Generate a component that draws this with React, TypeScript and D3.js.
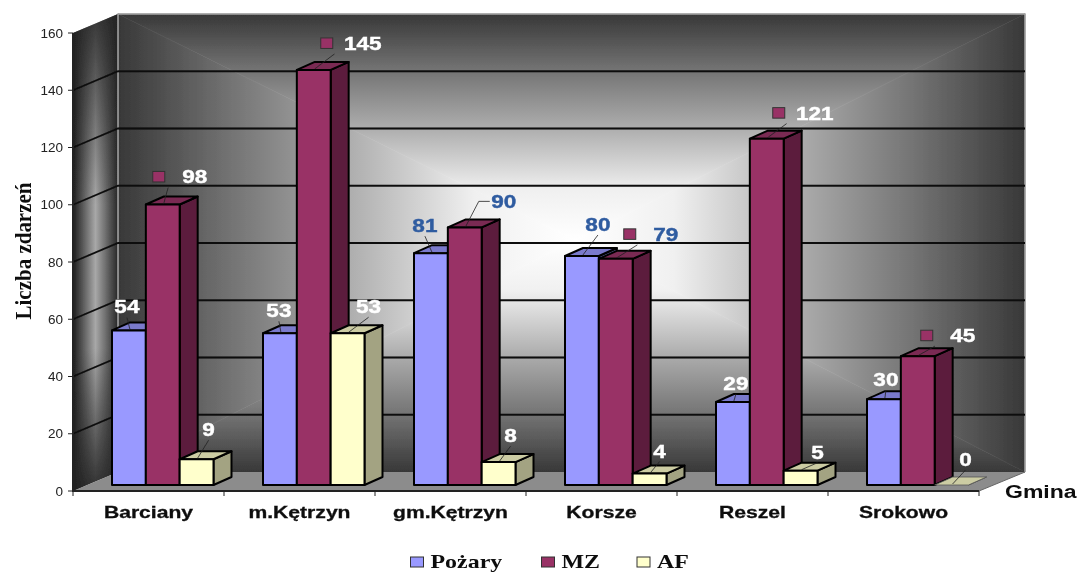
import React, { useEffect, useRef } from 'react';
import * as d3 from 'd3';

const categories = ['Barciany', 'm.Kętrzyn', 'gm.Kętrzyn', 'Korsze', 'Reszel', 'Srokowo'];
const seriesNames = ['Pożary', 'MZ', 'AF'];
const pozary = [54, 53, 81, 80, 29, 30];
const mz = [98, 145, 90, 79, 121, 45];
const af = [9, 53, 8, 4, 5, 0];
const yTicks = [0, 20, 40, 60, 80, 100, 120, 140, 160];

const frontColors = ['#9999ff', '#993366', '#ffffcc'];
const topColors = ['#7a7acc', '#7a2952', '#cccca3'];
const sideColors = ['#5c5c99', '#5c1f3d', '#a3a382'];

// label offsets from the top centre of each bar: [dx, dy]
const labelOffsets = [
  [[-2, -24], [-1, -23], [-6, -28], [16, -32], [3, -19], [2, -20]],
  [[32, -28], [49, -27], [39, -26], [50, -25], [48, -26], [45, -21]],
  [[12, -30], [21, -27], [12, -27], [10, -23], [17, -19], [14, -26]],
];
const blueCategories = ['gm.Kętrzyn', 'Korsze'];
const legendX = [417, 548, 643.5];

export default function App() {
  const ref = useRef<SVGSVGElement>(null);

  useEffect(() => {
    const left = 73, right = 979, bottom = 491, top = 33;
    const depthX = 45, depthY = 19; // chart depth
    const barDx = 18, barDy = 8, barBase = 6;

    const svg = d3.select(ref.current);
    svg.selectAll('*').remove();

    const x0 = d3.scaleBand<string>().domain(categories).range([left, right]);
    const x1 = d3.scaleBand<string>().domain(seriesNames).range([39, 140.5]);
    const y = d3.scaleLinear().domain([0, 160]).range([bottom, top]);

    const defs = svg.append('defs');
    defs.append('filter').attr('id', 'soft').append('feGaussianBlur').attr('stdDeviation', 0.45);

    // back wall, gradient runs from the centre out to each edge
    const wl = left + depthX, wr = right + depthX + 1, wt = top - depthY, wb = bottom - depthY;
    const cx = 575, cy = 240;
    const wallStops = [[0, '#ffffff'], [0.22, '#f0f0f0'], [0.5, '#acacac'], [0.75, '#747474'], [1, '#383838']];
    const wallSides = [
      { id: 'wt', to: [cx, wt], pts: [[wl, wt], [wr, wt], [cx, cy]] },
      { id: 'wb', to: [cx, wb], pts: [[wl, wb], [wr, wb], [cx, cy]] },
      { id: 'wl', to: [wl, cy], pts: [[wl, wt], [wl, wb], [cx, cy]] },
      { id: 'wr', to: [wr, cy], pts: [[wr, wt], [wr, wb], [cx, cy]] },
    ];
    const wall = svg.append('g').attr('filter', 'url(#soft)');
    wallSides.forEach(s => {
      const g = defs.append('linearGradient').attr('id', s.id).attr('gradientUnits', 'userSpaceOnUse')
        .attr('x1', cx).attr('y1', cy).attr('x2', s.to[0]).attr('y2', s.to[1]);
      wallStops.forEach(st => g.append('stop').attr('offset', st[0]).attr('stop-color', st[1]));
      wall.append('polygon').attr('points', s.pts.join(' ')).attr('fill', `url(#${s.id})`)
        .attr('stroke', `url(#${s.id})`).attr('stroke-width', 0.6);
    });

    // side wall
    const sideV = defs.append('linearGradient').attr('id', 'sideH').attr('x1', 0).attr('x2', 1).attr('y1', 0).attr('y2', 0);
    [[0, '#1c1c1c'], [0.5, '#a8a8a8'], [1, '#262626']].forEach(st => sideV.append('stop').attr('offset', st[0]).attr('stop-color', st[1]));
    const sideS = defs.append('linearGradient').attr('id', 'sideD').attr('x1', 0).attr('x2', 0).attr('y1', 0).attr('y2', 1);
    [[0, 0.85], [0.4, 0], [0.7, 0], [1, 0.9]].forEach(st => sideS.append('stop').attr('offset', st[0]).attr('stop-color', '#222').attr('stop-opacity', st[1]));
    const sidePts = [[left, top], [wl, wt], [wl, wb], [left, bottom]].join(' ');
    wall.append('polygon').attr('points', sidePts).attr('fill', 'url(#sideH)');
    wall.append('polygon').attr('points', sidePts).attr('fill', 'url(#sideD)');

    // floor
    wall.append('polygon')
      .attr('points', [[left, bottom], [wl, wb], [wr, wb], [right, bottom]].join(' '))
      .attr('fill', '#8c8c8c');

    // wall edges
    wall.append('path')
      .attr('d', `M${wl},${wb}V${wt}H${wr}V${wb}`)
      .attr('fill', 'none').attr('stroke', '#a8a8a8').attr('stroke-width', 1.5);

    // gridlines
    const grid = svg.append('g').attr('filter', 'url(#soft)');
    yTicks.filter(t => t > 0 && t < 160).forEach(t => {
      grid.append('path')
        .attr('d', `M${left},${y(t)}L${wl},${y(t) - depthY}H${wr}`)
        .attr('fill', 'none').attr('stroke', '#0c0c0c').attr('stroke-width', 1.8);
    });

    // axes
    const axes = svg.append('g').attr('filter', 'url(#soft)');
    axes.append('path').attr('d', `M${left},${top}V${bottom}H${right}`).attr('fill', 'none').attr('stroke', '#222').attr('stroke-width', 2);
    axes.append('path').attr('d', `M${right},${bottom}L${right + depthX + 1},${bottom - depthY}`).attr('fill', 'none').attr('stroke', '#666').attr('stroke-width', 1);
    yTicks.forEach(t => {
      axes.append('line').attr('x1', left - 5).attr('x2', left).attr('y1', y(t)).attr('y2', y(t)).attr('stroke', '#222');
      axes.append('text').attr('x', left - 10).attr('y', y(t) + 4.5).attr('text-anchor', 'end')
        .attr('font-family', 'Liberation Sans').attr('font-size', 13.5).attr('fill', '#222').text(t);
    });
    [...categories, ''].forEach((c, i) => {
      const xt = left + i * x0.step();
      axes.append('line').attr('x1', xt).attr('x2', xt).attr('y1', bottom).attr('y2', bottom + 5).attr('stroke', '#222');
      if (c) {
        axes.append('text').attr('transform', `translate(${x0(c)! + x0.bandwidth() / 2},518) scale(1.32,1)`)
          .attr('text-anchor', 'middle').attr('font-family', 'Liberation Sans').attr('font-weight', 'bold')
          .attr('font-size', 16).attr('fill', '#111').attr('stroke', '#111').attr('stroke-width', 0.3).text(c);
      }
    });

    // bars
    const allSeries = [pozary, mz, af];
    const bars = svg.append('g').attr('filter', 'url(#soft)');
    categories.forEach((c, ci) => {
      allSeries.forEach((vals, si) => {
        const v = vals[ci];
        const bx = x0(c)! + x1(seriesNames[si])!;
        const bw = x1.bandwidth();
        const by = y(v) - barBase;
        const bb = y(0) - barBase;
        const g = bars.append('g').attr('stroke', v === 0 ? '#555' : '#000').attr('stroke-width', v === 0 ? 0.8 : 2).attr('stroke-linejoin', 'round');
        g.append('polygon').attr('points', [[bx + bw, by], [bx + bw + barDx, by - barDy], [bx + bw + barDx, bb - barDy], [bx + bw, bb]].join(' ')).attr('fill', sideColors[si]);
        g.append('polygon').attr('points', [[bx, by], [bx + barDx, by - barDy], [bx + bw + barDx, by - barDy], [bx + bw, by]].join(' ')).attr('fill', topColors[si]);
        g.append('rect').attr('x', bx).attr('y', by).attr('width', bw).attr('height', bb - by).attr('fill', frontColors[si]);
      });
    });

    // data labels with leader lines
    const labels = svg.append('g').attr('filter', 'url(#soft)');
    categories.forEach((c, ci) => {
      allSeries.forEach((vals, si) => {
        const v = vals[ci];
        const mx = x0(c)! + x1(seriesNames[si])! + x1.bandwidth() / 2;
        const my = y(v) - barBase;
        const [dx, dy] = labelOffsets[si][ci];
        const lx = mx + dx, ly = my + dy;
        const blue = blueCategories.includes(c) && si < 2;
        const color = blue ? '#2f5ba0' : '#fff';
        labels.append('text').attr('transform', `translate(${lx},${ly + 7}) scale(1.22,1)`)
          .attr('text-anchor', 'middle').attr('font-family', 'Liberation Sans').attr('font-weight', 'bold')
          .attr('font-size', 18.5).attr('fill', color).attr('stroke', color).attr('stroke-width', 0.4).text(v);
        const isNinety = si === 1 && ci === 2;
        const hasKey = si === 1 && !isNinety;
        const ex = hasKey ? mx + (dx - 26) * 0.9 : lx;
        const ey = ly + 11;
        labels.append('path')
          .attr('d', isNinety ? `M${mx + 1},${my - 1}L${lx - 25},${ly}H${lx - 14}` : `M${mx + 1},${my - 1}L${ex},${ey}`)
          .attr('fill', 'none').attr('stroke', '#222').attr('stroke-width', 0.8);
        if (hasKey) {
          labels.append('rect').attr('x', lx - 42).attr('y', ly - 5).attr('width', 12).attr('height', 10.5)
            .attr('fill', frontColors[1]).attr('stroke', '#333').attr('stroke-width', 1);
        }
      });
    });

    // titles
    const titles = svg.append('g').attr('filter', 'url(#soft)');
    titles.append('text').attr('transform', 'translate(31,251) rotate(-90) scale(1.05,1.15)')
      .attr('text-anchor', 'middle').attr('font-family', 'Liberation Serif').attr('font-weight', 'bold')
      .attr('font-size', 20).attr('fill', '#111').text('Liczba zdarzeń');
    titles.append('text').attr('transform', 'translate(1005,498) scale(1.28,1)')
      .attr('font-family', 'Liberation Sans').attr('font-weight', 'bold').attr('font-size', 18).attr('fill', '#111').text('Gmina');

    // legend
    seriesNames.forEach((s, i) => {
      titles.append('rect').attr('x', legendX[i] - 6.5).attr('y', 557).attr('width', 13).attr('height', 10)
        .attr('fill', frontColors[i]).attr('stroke', '#333');
      titles.append('text').attr('transform', `translate(${legendX[i] + 13.5},568) scale(1.33,1)`)
        .attr('font-family', 'Liberation Serif').attr('font-weight', 'bold').attr('font-size', 18).attr('fill', '#111').text(s);
    });
  }, []);

  return <svg ref={ref} width={1080} height={572} style={{ position: 'absolute', left: 0, top: 0 }} />;
}
